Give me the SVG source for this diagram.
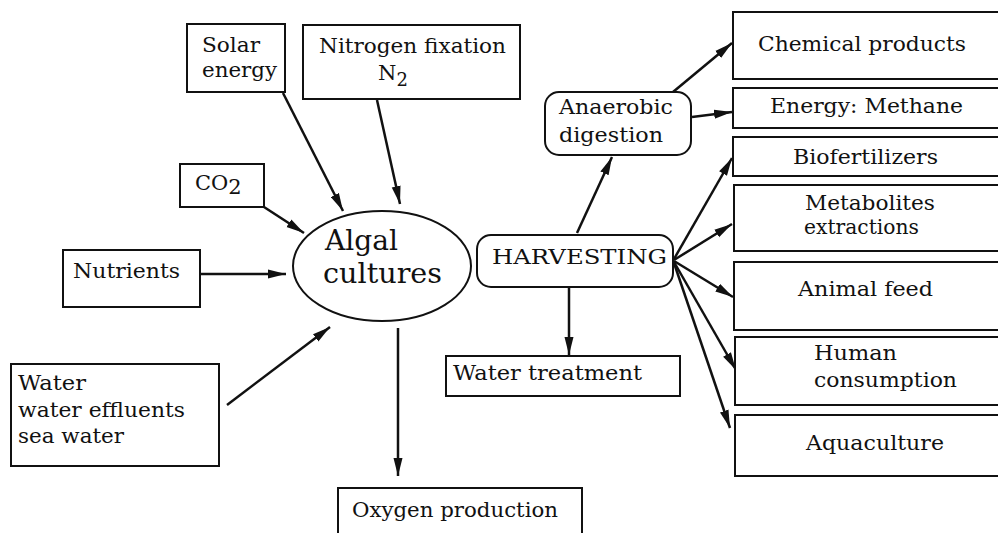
<svg xmlns="http://www.w3.org/2000/svg" width="998" height="533" viewBox="0 0 998 533">
<style>
.b{fill:#fff;stroke:#111;stroke-width:2}
.t{font-family:"DejaVu Serif","Liberation Serif",serif;font-size:21px;fill:#111}
.c{stroke:#111;stroke-width:2.5;fill:none;marker-end:url(#ah)}
</style>
<defs>
<marker id="ah" markerUnits="userSpaceOnUse" markerWidth="20" markerHeight="10" refX="18" refY="5" orient="auto" viewBox="0 0 20 10">
<path d="M0,0.5 L18,5 L0,9.5 Z" fill="#111"/>
</marker>
</defs>
<rect width="998" height="533" fill="#fff"/>
<g id="connectors">
<line class="c" x1="283" y1="93" x2="343" y2="211"/>
<line class="c" x1="377" y1="100" x2="400" y2="204"/>
<line class="c" x1="264" y1="207" x2="304" y2="233"/>
<line class="c" x1="200" y1="274" x2="286" y2="274"/>
<line class="c" x1="227" y1="405" x2="330" y2="327"/>
<line class="c" x1="398" y1="328" x2="398" y2="476"/>
<line class="c" x1="569" y1="287" x2="569" y2="355"/>
<line class="c" x1="577" y1="233" x2="612" y2="157"/>
<line class="c" x1="673" y1="92" x2="732" y2="43"/>
<line class="c" x1="692" y1="117" x2="732" y2="112"/>
<line class="c" x1="674" y1="259" x2="732" y2="158"/>
<line class="c" x1="674" y1="260" x2="732" y2="224"/>
<line class="c" x1="674" y1="261" x2="733" y2="297"/>
<line class="c" x1="674" y1="262" x2="736" y2="370"/>
<line class="c" x1="674" y1="263" x2="730" y2="428"/>
</g>
<g id="solar"><rect class="b" x="187" y="24" width="98" height="68"/><text class="t" x="202" y="52" textLength="58" lengthAdjust="spacingAndGlyphs">Solar</text><text class="t" x="202" y="77" textLength="75" lengthAdjust="spacingAndGlyphs">energy</text></g>
<g id="nitrogen"><rect class="b" x="303" y="25" width="217" height="74"/><text class="t" x="319" y="53" textLength="187" lengthAdjust="spacingAndGlyphs">Nitrogen fixation</text><text class="t" x="378" y="80">N<tspan font-size="18" dy="6">2</tspan></text></g>
<g id="co2"><rect class="b" x="180" y="164" width="84" height="43"/><text class="t" x="195" y="190">CO<tspan dy="4">2</tspan></text></g>
<g id="algal"><ellipse class="b" cx="382" cy="266" rx="89" ry="55"/><text class="t" x="325" y="250" style="font-size:28px" textLength="73" lengthAdjust="spacingAndGlyphs">Algal</text><text class="t" x="323" y="283" style="font-size:28px" textLength="119" lengthAdjust="spacingAndGlyphs">cultures</text></g>
<g id="nutrients"><rect class="b" x="63" y="250" width="137" height="57"/><text class="t" x="73" y="278" textLength="107" lengthAdjust="spacingAndGlyphs">Nutrients</text></g>
<g id="water"><rect class="b" x="11" y="364" width="208" height="102"/><text class="t" x="18" y="390" textLength="68" lengthAdjust="spacingAndGlyphs">Water</text><text class="t" x="18" y="417" textLength="167" lengthAdjust="spacingAndGlyphs">water effluents</text><text class="t" x="18" y="443" textLength="106" lengthAdjust="spacingAndGlyphs">sea water</text></g>
<g id="oxygen"><rect class="b" x="338" y="488" width="244" height="60"/><text class="t" x="352" y="517" textLength="206" lengthAdjust="spacingAndGlyphs">Oxygen production</text></g>
<g id="harvesting"><rect class="b" x="477" y="235" width="196" height="52" rx="14"/><text class="t" x="492" y="264" textLength="175" lengthAdjust="spacingAndGlyphs">HARVESTING</text></g>
<g id="anaerobic"><rect class="b" x="545" y="92" width="146" height="63" rx="14"/><text class="t" x="559" y="114" textLength="114" lengthAdjust="spacingAndGlyphs">Anaerobic</text><text class="t" x="559" y="142" textLength="104" lengthAdjust="spacingAndGlyphs">digestion</text></g>
<g id="watertreatment"><rect class="b" x="446" y="356" width="234" height="40"/><text class="t" x="453" y="380" textLength="189" lengthAdjust="spacingAndGlyphs">Water treatment</text></g>
<g id="chemical"><rect class="b" x="733" y="12" width="280" height="67"/><text class="t" x="758" y="51" textLength="208" lengthAdjust="spacingAndGlyphs">Chemical products</text></g>
<g id="energy"><rect class="b" x="733" y="88" width="280" height="40"/><text class="t" x="770" y="113" textLength="193" lengthAdjust="spacingAndGlyphs">Energy: Methane</text></g>
<g id="biofert"><rect class="b" x="733" y="137" width="280" height="39"/><text class="t" x="793" y="164" textLength="145" lengthAdjust="spacingAndGlyphs">Biofertilizers</text></g>
<g id="metabolites"><rect class="b" x="734" y="185" width="280" height="66"/><text class="t" x="805" y="210" textLength="130" lengthAdjust="spacingAndGlyphs">Metabolites</text><text class="t" x="804" y="234" textLength="115" lengthAdjust="spacingAndGlyphs">extractions</text></g>
<g id="animalfeed"><rect class="b" x="734" y="262" width="280" height="68"/><text class="t" x="798" y="296" textLength="135" lengthAdjust="spacingAndGlyphs">Animal feed</text></g>
<g id="human"><rect class="b" x="735" y="337" width="280" height="68"/><text class="t" x="814" y="360" textLength="83" lengthAdjust="spacingAndGlyphs">Human</text><text class="t" x="814" y="387" textLength="143" lengthAdjust="spacingAndGlyphs">consumption</text></g>
<g id="aquaculture"><rect class="b" x="735" y="415" width="280" height="61"/><text class="t" x="806" y="450" textLength="138" lengthAdjust="spacingAndGlyphs">Aquaculture</text></g>
</svg>
